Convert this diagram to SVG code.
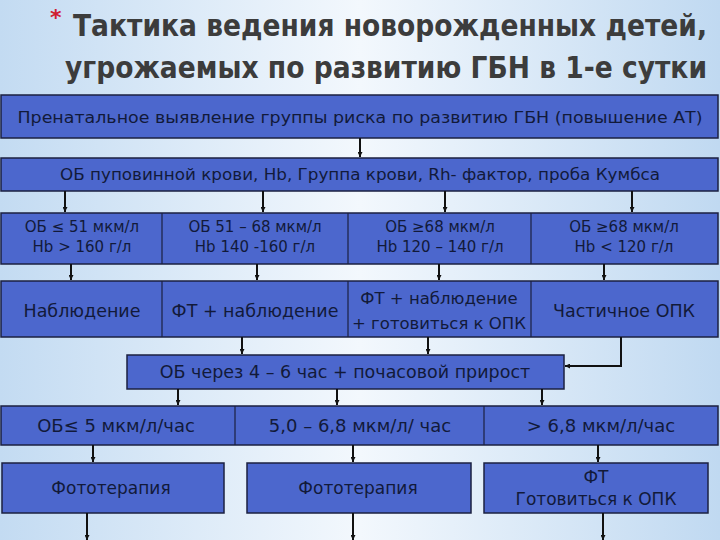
<svg xmlns="http://www.w3.org/2000/svg" width="720" height="540" viewBox="0 0 720 540">
<defs>
<linearGradient id="bg" x1="0" y1="0" x2="1" y2="0">
<stop offset="0" stop-color="#c3dbf2"/>
<stop offset="0.5" stop-color="#f3f8fd"/>
<stop offset="1" stop-color="#c0d9f1"/>
</linearGradient>
<marker id="ah" viewBox="0 0 10 10" refX="10" refY="5" markerWidth="5" markerHeight="5" orient="auto" markerUnits="userSpaceOnUse">
<path d="M0,0 L10,5 L0,10 z" fill="#111"/>
</marker>
<style>
.box{fill:#4c67cd;stroke:#1b2140;stroke-width:1.5}
.div{stroke:#1b2140;stroke-width:1.2}
.t{font-family:"DejaVu Sans","Noto Sans",sans-serif;fill:#121a3a;text-anchor:middle}
.c{stroke:#111;stroke-width:2;fill:none;marker-end:url(#ah)}
.title{font-family:"DejaVu Sans Condensed","DejaVu Sans",sans-serif;font-stretch:condensed;font-weight:bold;fill:#3c3c3c;font-size:30px}
</style>
</defs>
<rect width="720" height="540" fill="url(#bg)"/>
<g id="title">
<text x="50" y="25" style="font-family:'DejaVu Sans',sans-serif;font-size:22px;fill:#d02030;font-weight:bold">*</text>
<text class="title" x="73" y="36" textLength="634" lengthAdjust="spacingAndGlyphs">Тактика ведения новорожденных детей,</text>
<text class="title" x="65" y="78" textLength="642" lengthAdjust="spacingAndGlyphs">угрожаемых по развитию ГБН в 1-е сутки</text>
</g>
<g id="n1"><rect class="box" x="1" y="95" width="717" height="43"/><text class="t" x="360" y="123" font-size="16.5" textLength="685" lengthAdjust="spacingAndGlyphs">Пренатальное выявление группы риска по развитию ГБН (повышение АТ)</text></g>
<g id="n2"><rect class="box" x="1" y="158" width="717" height="33"/><text class="t" x="360" y="180" font-size="16.5" textLength="600" lengthAdjust="spacingAndGlyphs">ОБ пуповинной крови, Hb, Группа крови, Rh- фактор, проба Кумбса</text></g>
<g id="row3">
<rect class="box" x="1" y="213" width="717" height="51"/>
<line class="div" x1="162" y1="213" x2="162" y2="264"/><line class="div" x1="348" y1="213" x2="348" y2="264"/><line class="div" x1="531" y1="213" x2="531" y2="264"/>
</g>
<g id="n3a"><text class="t" x="82" y="232" font-size="15">ОБ ≤ 51 мкм/л</text><text class="t" x="82" y="252" font-size="15">Hb &gt; 160 г/л</text></g>
<g id="n3b"><text class="t" x="255" y="232" font-size="15">ОБ 51 – 68 мкм/л</text><text class="t" x="255" y="252" font-size="15">Hb 140 -160 г/л</text></g>
<g id="n3c"><text class="t" x="440" y="232" font-size="15">ОБ ≥68 мкм/л</text><text class="t" x="440" y="252" font-size="15">Hb 120 – 140 г/л</text></g>
<g id="n3d"><text class="t" x="624" y="232" font-size="15">ОБ ≥68 мкм/л</text><text class="t" x="624" y="252" font-size="15">Hb &lt; 120 г/л</text></g>
<g id="row4">
<rect class="box" x="1" y="281" width="717" height="56"/>
<line class="div" x1="162" y1="281" x2="162" y2="337"/><line class="div" x1="348" y1="281" x2="348" y2="337"/><line class="div" x1="531" y1="281" x2="531" y2="337"/>
</g>
<g id="n4a"><text class="t" x="82" y="317" font-size="17.5">Наблюдение</text></g>
<g id="n4b"><text class="t" x="255" y="317" font-size="17.5">ФТ + наблюдение</text></g>
<g id="n4c"><text class="t" x="439" y="304" font-size="16.5">ФТ + наблюдение</text><text class="t" x="439" y="329" font-size="16.5">+ готовиться к ОПК</text></g>
<g id="n4d"><text class="t" x="624" y="317" font-size="17.5">Частичное ОПК</text></g>
<g id="n5"><rect class="box" x="127" y="355" width="437" height="34"/><text class="t" x="345" y="378" font-size="17.5">ОБ через 4 – 6 час + почасовой прирост</text></g>
<g id="row6">
<rect class="box" x="1" y="406" width="717" height="39"/>
<line class="div" x1="235" y1="406" x2="235" y2="445"/><line class="div" x1="484" y1="406" x2="484" y2="445"/>
</g>
<g id="n6a"><text class="t" x="116" y="432" font-size="18">ОБ≤ 5 мкм/л/час</text></g>
<g id="n6b"><text class="t" x="360" y="432" font-size="18">5,0 – 6,8 мкм/л/ час</text></g>
<g id="n6c"><text class="t" x="601" y="432" font-size="18">&gt; 6,8 мкм/л/час</text></g>
<g id="n7a"><rect class="box" x="2" y="463" width="222" height="50"/><text class="t" x="111" y="494" font-size="17">Фототерапия</text></g>
<g id="n7b"><rect class="box" x="247" y="463" width="224" height="50"/><text class="t" x="358" y="494" font-size="17">Фототерапия</text></g>
<g id="n7c"><rect class="box" x="484" y="463" width="224" height="50"/><text class="t" x="596" y="483" font-size="17">ФТ</text><text class="t" x="596" y="505" font-size="17">Готовиться к ОПК</text></g>
<g id="connectors">
<line class="c" x1="360" y1="138" x2="360" y2="157"/>
<line class="c" x1="65" y1="191" x2="65" y2="212"/>
<line class="c" x1="263" y1="191" x2="263" y2="212"/>
<line class="c" x1="445" y1="191" x2="445" y2="212"/>
<line class="c" x1="632" y1="191" x2="632" y2="212"/>
<line class="c" x1="71" y1="264" x2="71" y2="280"/>
<line class="c" x1="257" y1="264" x2="257" y2="280"/>
<line class="c" x1="439" y1="264" x2="439" y2="280"/>
<line class="c" x1="604" y1="264" x2="604" y2="280"/>
<line class="c" x1="242" y1="337" x2="242" y2="354"/>
<line class="c" x1="428" y1="337" x2="428" y2="354"/>
<polyline class="c" points="621,337 621,366 565,366"/>
<line class="c" x1="178" y1="389" x2="178" y2="405"/>
<line class="c" x1="337" y1="389" x2="337" y2="405"/>
<line class="c" x1="542" y1="389" x2="542" y2="405"/>
<line class="c" x1="93" y1="445" x2="93" y2="462"/>
<line class="c" x1="353" y1="445" x2="353" y2="462"/>
<line class="c" x1="598" y1="445" x2="598" y2="462"/>
<line class="c" x1="87" y1="513" x2="87" y2="540"/>
<line class="c" x1="353" y1="513" x2="353" y2="540"/>
<line class="c" x1="603" y1="513" x2="603" y2="540"/>
</g>
</svg>
